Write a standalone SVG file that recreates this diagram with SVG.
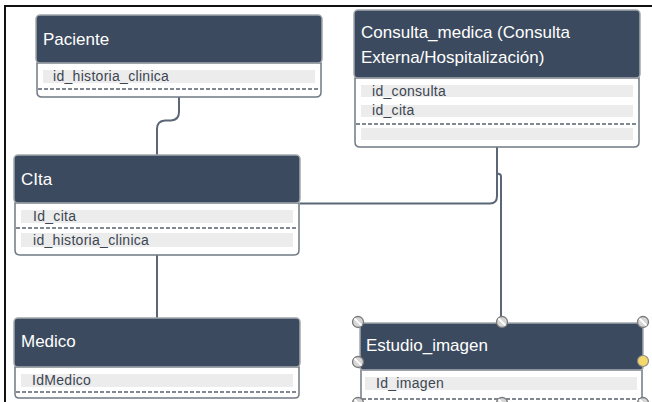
<svg xmlns="http://www.w3.org/2000/svg" width="652" height="402" viewBox="0 0 652 402">
<defs>
<style>
.hdr{fill:#3b4a5e;stroke:#a3a8ae;stroke-width:1.5}
.body{fill:#ffffff;stroke:#717983;stroke-width:1.5}
.row{fill:#ececec}
.dash{stroke:#59616c;stroke-width:1.5;stroke-dasharray:4 2;fill:none}
.ht{font-family:"Liberation Sans",Arial,sans-serif;font-size:17px;fill:#ffffff}
.ft{font-family:"Liberation Sans",Arial,sans-serif;font-size:14px;letter-spacing:0.3px;fill:#3c4652}
.conn{fill:none;stroke:#5b6676;stroke-width:2}
.hdl{fill:#d6d6d6;stroke:#7a7a7a;stroke-width:1.3}
.hdlx{stroke:#ffffff;stroke-width:1.8}
</style>
</defs>
<rect x="0" y="0" width="652" height="402" fill="#ffffff"/>
<path d="M5,402 V6 H652" fill="none" stroke="#111111" stroke-width="2"/>

<g id="connectors">
<path class="conn" d="M179,97 V112 Q179,120 171,120.5 H165 Q157,121 157,129 V155"/>
<path class="conn" d="M300,203.5 H490 Q497,203.5 497,196 V147"/>
<path class="conn" d="M497,147 V172 Q497,174 499,174 Q501,174 501,177 V321"/>
<path class="conn" d="M157,255 V318"/>
</g>

<g id="paciente">
<path class="body" d="M37,63 H321 V92 Q321,97 316,97 H42 Q37,97 37,92 Z"/>
<rect class="row" x="43" y="70" width="272" height="13"/>
<text class="ft" x="53" y="81">id_historia_clinica</text>
<line class="dash" x1="38" y1="89" x2="320" y2="89"/>
<rect class="hdr" x="36" y="15" width="286" height="48" rx="4"/>
<text class="ht" x="43" y="45">Paciente</text>
</g>

<g id="consulta_medica">
<path class="body" d="M355,78 H639 V142 Q639,147 634,147 H360 Q355,147 355,142 Z"/>
<rect class="row" x="361" y="85" width="272" height="12"/>
<rect class="row" x="361" y="105" width="272" height="12"/>
<rect class="row" x="361" y="128" width="272" height="12"/>
<text class="ft" x="372" y="95.5">id_consulta</text>
<text class="ft" x="372" y="115">id_cita</text>
<line class="dash" x1="356" y1="124" x2="638" y2="124"/>
<rect class="hdr" x="354" y="10" width="286" height="68" rx="4"/>
<text class="ht" x="361" y="38">Consulta_medica (Consulta</text>
<text class="ht" x="361" y="63">Externa/Hospitalización)</text>
</g>

<g id="cita">
<path class="body" d="M15,203 H299 V250 Q299,255 294,255 H20 Q15,255 15,250 Z"/>
<rect class="row" x="21" y="210" width="272" height="13"/>
<rect class="row" x="21" y="233" width="272" height="14"/>
<text class="ft" x="33" y="221">Id_cita</text>
<text class="ft" x="33" y="244.5">id_historia_clinica</text>
<line class="dash" x1="16" y1="228" x2="298" y2="228"/>
<rect class="hdr" x="14" y="155" width="286" height="48" rx="4"/>
<text class="ht" x="21" y="185">CIta</text>
</g>

<g id="medico">
<path class="body" d="M15,367 H299 V394 Q299,398 295,398 H19 Q15,398 15,394 Z"/>
<rect class="row" x="21" y="374" width="272" height="13"/>
<text class="ft" x="32" y="385">IdMedico</text>
<line class="dash" x1="16" y1="392" x2="298" y2="392"/>
<rect class="hdr" x="14" y="318" width="286" height="49" rx="4"/>
<text class="ht" x="21" y="347">Medico</text>
</g>

<g id="estudio_imagen">
<path class="body" d="M361,370 H642 V406 H361 Z"/>
<rect class="row" x="365" y="377" width="272" height="13"/>
<text class="ft" x="376" y="388">Id_imagen</text>
<line class="dash" x1="362" y1="399" x2="641" y2="399"/>
<rect class="hdr" x="360" y="323" width="283" height="47" rx="3"/>
<text class="ht" x="366" y="351">Estudio_imagen</text>
<g id="handles">
<g transform="translate(358,322)"><circle class="hdl" r="5.5"/><line class="hdlx" x1="-3.5" y1="-3.5" x2="3.5" y2="3.5"/></g>
<g transform="translate(502,322)"><circle class="hdl" r="5.5"/><line class="hdlx" x1="-3.5" y1="-3.5" x2="3.5" y2="3.5"/></g>
<g transform="translate(643,322)"><circle class="hdl" r="5.5"/><line class="hdlx" x1="-3.5" y1="-3.5" x2="3.5" y2="3.5"/></g>
<g transform="translate(358,362)"><circle class="hdl" r="5.5"/><line class="hdlx" x1="-3.5" y1="-3.5" x2="3.5" y2="3.5"/></g>
<circle cx="643" cy="361" r="5.5" fill="#f3d96b" stroke="#8a8a8a" stroke-width="1.2"/>
<g transform="translate(358,403)"><circle class="hdl" r="5.5"/><line class="hdlx" x1="-3.5" y1="-3.5" x2="3.5" y2="3.5"/></g>
<g transform="translate(502,403)"><circle class="hdl" r="5.5"/><line class="hdlx" x1="-3.5" y1="-3.5" x2="3.5" y2="3.5"/></g>
<g transform="translate(643,403)"><circle class="hdl" r="5.5"/><line class="hdlx" x1="-3.5" y1="-3.5" x2="3.5" y2="3.5"/></g>
</g>
</g>
</svg>
